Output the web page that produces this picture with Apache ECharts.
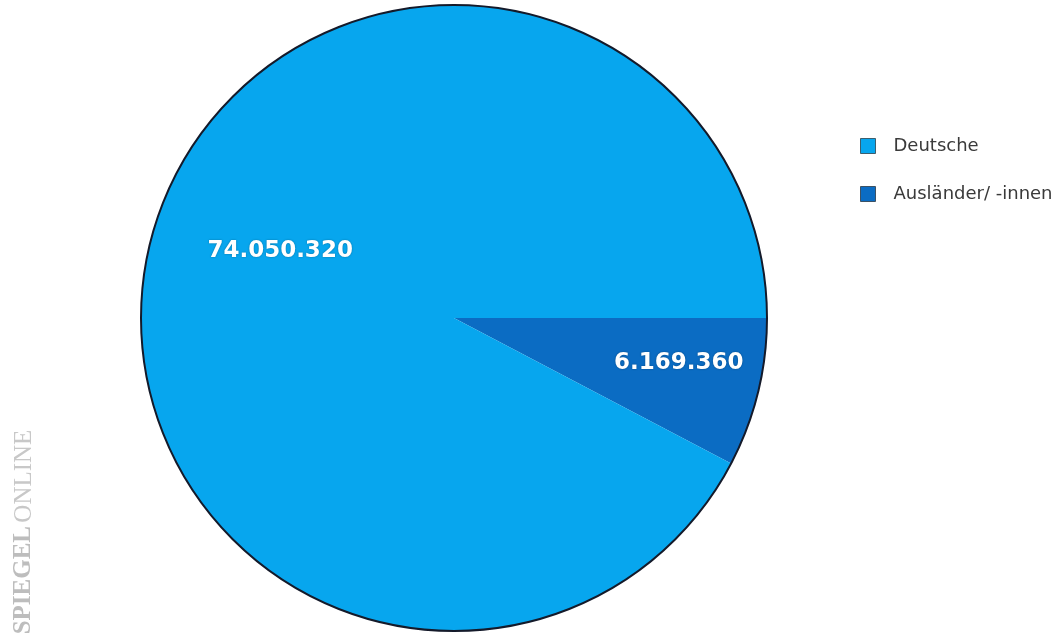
<!DOCTYPE html>
<html>
<head>
<meta charset="utf-8">
<script src="https://cdn.jsdelivr.net/npm/echarts@6/dist/echarts.min.js"></script>
<style>html,body{margin:0;padding:0;background:#fff;}#c{width:1064px;height:640px;}</style>
</head>
<body>
<div id="c"></div>
<script>
const categories = ['Deutsche', 'Ausländer/ -innen'];
const values = [74050320, 6169360];
const colors = ['#07a6ee', '#0b6cc3'];

function fmt(v) { return String(v).replace(/\B(?=(\d{3})+(?!\d))/g, '.'); }

const chart = echarts.init(document.getElementById('c'), null, {renderer: 'canvas'});
const numStyle = {
  color: '#fff', fontFamily: 'DejaVu Sans', fontWeight: 'bold', fontSize: 23,
  textShadowColor: 'rgba(0,0,0,0.35)', textShadowBlur: 2, lineHeight: 26
};
chart.setOption({
  animation: false,
  legend: {
    orient: 'vertical', left: 860, top: 137, padding: 0,
    data: [categories[0], categories[1]],
    itemWidth: 15, itemHeight: 15, itemGap: 30,
    icon: 'rect',
    itemStyle: { borderColor: 'rgba(0,0,0,0.55)', borderWidth: 1 },
    textStyle: { fontFamily: 'DejaVu Sans', fontSize: 18, color: '#3a3a3a', padding: [0, 0, 0, 13] }
  },
  graphic: [{
    type: 'text', x: 24, y: 532, rotation: Math.PI / 2,
    style: {
      text: '{b|SPIEGEL} {n|ONLINE}', align: 'center', verticalAlign: 'middle',
      rich: {
        b: { fontFamily: 'Liberation Serif', fontWeight: 'bold', fontSize: 25, fill: '#bdbdbd' },
        n: { fontFamily: 'Liberation Serif', fontSize: 25, fill: '#c8c8c8' }
      }
    }
  }],
  series: [{
    type: 'pie', center: [454, 318], radius: 313, startAngle: 0, clockwise: true,
    silent: true,
    labelLine: { show: false },
    data: [
      { name: categories[1], value: values[1], itemStyle: { color: colors[1] },
        label: { show: true, position: 'inside', padding: [0, 0, 0, 140],
          formatter: p => '{s|}\n{a|' + fmt(p.value) + '}',
          rich: { a: numStyle, s: { lineHeight: 14 } } } },
      { name: categories[0], value: values[0], itemStyle: { color: colors[0] },
        label: { show: true, position: 'inside', padding: [0, 38, 0, 0],
          formatter: p => '{a|' + fmt(p.value) + '}\n{s|}',
          rich: { a: numStyle, s: { lineHeight: 58 } } } }
    ]
  }, {
    type: 'pie', center: [454, 318], radius: 313, silent: true, z: 5,
    label: { show: false }, labelLine: { show: false },
    itemStyle: { color: 'rgba(0,0,0,0)', borderColor: '#141a2a', borderWidth: 2 },
    data: [{ name: '_outline', value: 1 }]
  }]
});
</script>
</body>
</html>
